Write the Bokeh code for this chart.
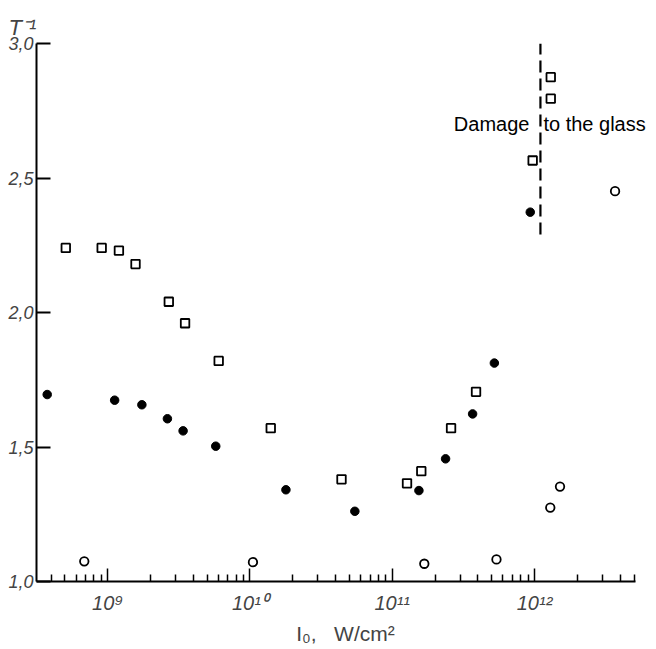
from bokeh.plotting import figure
from bokeh.models import FixedTicker, CustomJSTickFormatter
from bokeh.core.properties import value
from bokeh.embed import file_html
from bokeh.resources import INLINE

# Open squares
sq_x = [5.08e8, 9.08e8, 1.20e9, 1.57e9, 2.69e9, 3.50e9, 6.03e9, 1.40e10, 4.40e10,
        1.27e11, 1.60e11, 2.59e11, 3.88e11, 9.7e11, 1.30e12, 1.30e12]
sq_y = [2.24, 2.24, 2.23, 2.18, 2.04, 1.96, 1.82, 1.57, 1.38,
        1.365, 1.41, 1.57, 1.705, 2.565, 2.795, 2.875]
# Filled circles
fc_x = [3.76e8, 1.12e9, 1.74e9, 2.63e9, 3.39e9, 5.75e9, 1.79e10, 5.46e10,
        1.54e11, 2.37e11, 3.67e11, 5.22e11, 9.33e11]
fc_y = [1.695, 1.674, 1.657, 1.605, 1.56, 1.503, 1.341, 1.261,
        1.338, 1.456, 1.623, 1.812, 2.373]
# Open circles
oc_x = [6.85e8, 1.05e10, 1.68e11, 5.40e11, 1.29e12, 1.51e12, 3.68e12]
oc_y = [1.075, 1.072, 1.066, 1.082, 1.275, 1.353, 2.451]

# Damage threshold line
damage_x = [1.10e12]
damage_y0 = [2.29]
damage_y1 = [3.0]
damage_text_y = [2.70]

x_axis_start = 10 ** 8.5
x_axis_end = 5.1e12
x_major = [1e9, 1e10, 1e11, 1e12]
x_minor = [k * 10.0 ** e for e in range(8, 13) for k in range(2, 10)
           if x_axis_start <= k * 10.0 ** e <= x_axis_end]
y_major = [1.0, 1.5, 2.0, 2.5, 3.0]

p = figure(width=656, height=648, x_axis_type="log",
           x_range=(x_axis_start, 10 ** 12.843), y_range=(1.0, 3.0),
           output_backend="svg", toolbar_location=None,
           min_border_left=36, min_border_right=2,
           min_border_top=43, min_border_bottom=67)
p.outline_line_color = None
p.grid.visible = False
p.background_fill_color = "white"

p.title.text = "T\u207b\u00b9"
p.title.align = "left"
p.title.offset = -28
p.title.standoff = 7
p.title.text_font = "Liberation Sans"
p.title.text_font_style = "italic"
p.title.text_font_size = "22px"

xa = p.xaxis[0]
xa.bounds = (x_axis_start, x_axis_end)
xa.ticker = FixedTicker(ticks=x_major, minor_ticks=x_minor)
xa.formatter = CustomJSTickFormatter(code="""
const sup = {"0":"\u2070","1":"\u00b9","2":"\u00b2","3":"\u00b3","4":"\u2074",
             "5":"\u2075","6":"\u2076","7":"\u2077","8":"\u2078","9":"\u2079"};
const e = Math.round(Math.log10(tick));
return "10" + String(e).split("").map(c => sup[c]).join("");
""")
xa.axis_line_width = 2
xa.major_tick_in = 13
xa.major_tick_out = 0
xa.minor_tick_in = 7
xa.minor_tick_out = 0
xa.major_tick_line_width = 1.5
xa.minor_tick_line_width = 1.5
xa.major_label_text_font = "Liberation Sans"
xa.major_label_text_font_style = "italic"
xa.major_label_text_font_size = "20px"
xa.major_label_standoff = 10
xa.axis_label = "I\u2080,\u00a0\u00a0\u00a0W/cm\u00b2"
xa.axis_label_text_font = "Liberation Sans"
xa.axis_label_text_font_style = "normal"
xa.axis_label_text_font_size = "21px"
xa.axis_label_standoff = 5

ya = p.yaxis[0]
ya.ticker = FixedTicker(ticks=y_major, minor_ticks=[])
ya.formatter = CustomJSTickFormatter(code='return tick.toFixed(1).replace(".", ",");')
ya.axis_line_width = 2
ya.major_tick_in = 14
ya.major_tick_out = 0
ya.major_tick_line_width = 2
ya.major_label_text_font = "Liberation Sans"
ya.major_label_text_font_style = "italic"
ya.major_label_text_font_size = "18px"
ya.major_label_standoff = 3

p.scatter(sq_x, sq_y, marker="square", size=8.5, fill_color="white",
          line_color="black", line_width=1.8)
p.scatter(fc_x, fc_y, marker="circle", size=8.5, fill_color="black",
          line_color="black")
p.scatter(oc_x, oc_y, marker="circle", size=8.5, fill_color="white",
          line_color="black", line_width=1.8)

p.segment(x0=damage_x, y0=damage_y0, x1=damage_x, y1=damage_y1,
          line_color="black", line_width=2.2, line_dash="12 6")
p.text(x=damage_x, y=damage_text_y, text=["Damage"], text_align="right",
       text_baseline="alphabetic", x_offset=-11,
       text_font=value("Liberation Sans"), text_font_size="20px", text_color="black")
p.text(x=damage_x, y=damage_text_y, text=["to the glass"], text_align="left",
       text_baseline="alphabetic", x_offset=3,
       text_font=value("Liberation Sans"), text_font_size="20px", text_color="black")

open("out.html", "w", encoding="utf-8").write(file_html(p, INLINE))
